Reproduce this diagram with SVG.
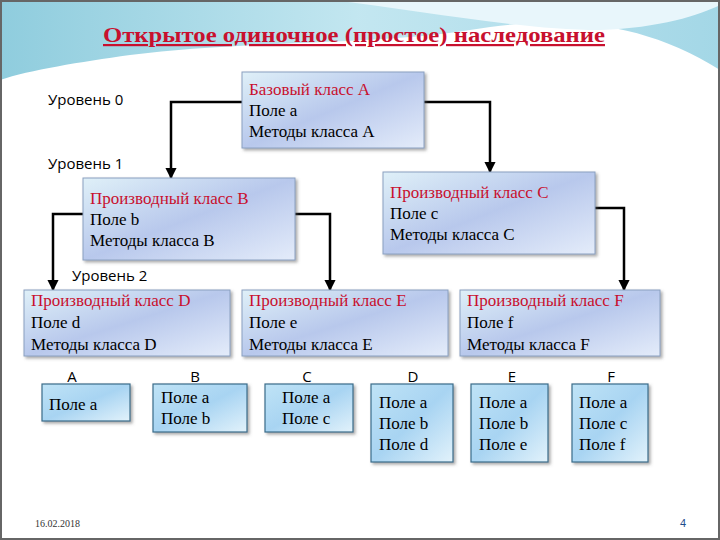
<svg xmlns="http://www.w3.org/2000/svg" width="720" height="540" viewBox="0 0 720 540">
<defs>
<linearGradient id="bg" x1="0" y1="0" x2="1" y2="1"><stop offset="0" stop-color="#dff0f8"/><stop offset="0.5" stop-color="#b8c8ec"/><stop offset="1" stop-color="#e4ecfa"/></linearGradient>
<linearGradient id="sm" x1="0" y1="0" x2="1" y2="1"><stop offset="0" stop-color="#bfe3f6"/><stop offset="0.5" stop-color="#a8d4f2"/><stop offset="1" stop-color="#e2f2fb"/></linearGradient>
<linearGradient id="sky" x1="0" y1="0" x2="1" y2="0"><stop offset="0" stop-color="#5fb7cf"/><stop offset="0.5" stop-color="#a9dcea"/><stop offset="1" stop-color="#7cc6dc"/></linearGradient>
<marker id="ar" viewBox="0 0 10 10" refX="9" refY="5" markerWidth="4.5" markerHeight="4.5" orient="auto"><path d="M0,0L10,5L0,10z" fill="#000"/></marker>
<filter id="sh" x="-10%" y="-10%" width="130%" height="130%"><feDropShadow dx="2" dy="2" stdDeviation="1.5" flood-color="#555" flood-opacity="0.5"/></filter>
</defs>
<style>
.b{fill:url(#bg);stroke:#8aa0c0;stroke-width:1;filter:url(#sh)}
.s{fill:url(#sm);stroke:#3a6d8a;stroke-width:1.2;filter:url(#sh)}
.t{font-family:"Liberation Serif",serif;font-size:17px;fill:#000}
.r{fill:#c8102e}
.l{font-family:"Open Sans","DejaVu Sans",sans-serif;font-size:15px;fill:#000}
.c{stroke:#000;stroke-width:2.5;fill:none;marker-end:url(#ar)}
</style>
<rect width="720" height="540" fill="#fff"/>
<path d="M0,0H720V70C640,20 560,15 470,30C380,45 250,40 130,55C80,62 30,70 0,80Z" fill="url(#sky)" opacity="0.7"/>
<path d="M330,0C420,10 520,30 600,30C660,28 700,15 720,5V0Z" fill="#e8f6fb"/>
<rect x="1" y="1" width="718" height="538" fill="none" stroke="#666" stroke-width="2"/>
<text x="103" y="42" textLength="502" lengthAdjust="spacingAndGlyphs" font-family="Liberation Serif,serif" font-size="22" font-weight="bold" fill="#c8102e" text-decoration="underline">Открытое одиночное (простое) наследование</text>
<text class="l" x="48" y="105">Уровень 0</text>
<text class="l" x="48" y="169">Уровень 1</text>
<text class="l" x="72" y="281">Уровень 2</text>
<g id="connectors">
<path class="c" d="M242,102H171V178"/>
<path class="c" d="M424,102H490V172"/>
<path class="c" d="M83,214H53V290"/>
<path class="c" d="M295,214H330V290"/>
<path class="c" d="M595,208H624V290"/>
</g>
<g id="nA"><rect class="b" x="242" y="72" width="182" height="76"/><text class="t" x="249" y="95"><tspan class="r">Базовый класс A</tspan><tspan x="249" dy="21">Поле a</tspan><tspan x="249" dy="21">Методы  класса A</tspan></text></g>
<g id="nB"><rect class="b" x="83" y="178" width="212" height="82"/><text class="t" x="90" y="204"><tspan class="r">Производный класс B</tspan><tspan x="90" dy="21">Поле b</tspan><tspan x="90" dy="21">Методы класса B</tspan></text></g>
<g id="nC"><rect class="b" x="383" y="172" width="212" height="82"/><text class="t" x="390" y="198"><tspan class="r">Производный класс C</tspan><tspan x="390" dy="21">Поле c</tspan><tspan x="390" dy="21">Методы  класса C</tspan></text></g>
<g id="nD"><rect class="b" x="24" y="290" width="206" height="66"/><text class="t" x="31" y="306"><tspan class="r">Производный класс D</tspan><tspan x="31" dy="22">Поле d</tspan><tspan x="31" dy="22">Методы класса D</tspan></text></g>
<g id="nE"><rect class="b" x="242" y="290" width="206" height="66"/><text class="t" x="249" y="306"><tspan class="r">Производный класс E</tspan><tspan x="249" dy="22">Поле e</tspan><tspan x="249" dy="22">Методы класса E</tspan></text></g>
<g id="nF"><rect class="b" x="460" y="290" width="200" height="66"/><text class="t" x="467" y="306"><tspan class="r">Производный класс F</tspan><tspan x="467" dy="22">Поле f</tspan><tspan x="467" dy="22">Методы класса F</tspan></text></g>
<g id="sA"><text class="l" x="72" y="382" text-anchor="middle">A</text><rect class="s" x="42" y="384" width="88" height="37"/><text class="t" x="49" y="410">Поле a</text></g>
<g id="sB"><text class="l" x="195" y="382" text-anchor="middle">B</text><rect class="s" x="153" y="384" width="94" height="48"/><text class="t" x="161" y="403">Поле a<tspan x="161" dy="21">Поле b</tspan></text></g>
<g id="sC"><text class="l" x="307" y="382" text-anchor="middle">C</text><rect class="s" x="265" y="384" width="88" height="48"/><text class="t" x="282" y="403">Поле a<tspan x="282" dy="21">Поле c</tspan></text></g>
<g id="sD"><text class="l" x="413" y="382" text-anchor="middle">D</text><rect class="s" x="371" y="384" width="82" height="78"/><text class="t" x="379" y="408">Поле a<tspan x="379" dy="21">Поле b</tspan><tspan x="379" dy="21">Поле d</tspan></text></g>
<g id="sE"><text class="l" x="512" y="382" text-anchor="middle">E</text><rect class="s" x="471" y="384" width="77" height="78"/><text class="t" x="479" y="408">Поле a<tspan x="479" dy="21">Поле b</tspan><tspan x="479" dy="21">Поле e</tspan></text></g>
<g id="sF"><text class="l" x="611" y="382" text-anchor="middle">F</text><rect class="s" x="572" y="384" width="76" height="78"/><text class="t" x="579" y="408">Поле a<tspan x="579" dy="21">Поле c</tspan><tspan x="579" dy="21">Поле f</tspan></text></g>
<text x="35" y="527" font-family="Liberation Serif,serif" font-size="10" fill="#333">16.02.2018</text>
<text x="680" y="527" font-family="Liberation Sans,sans-serif" font-size="11" fill="#1f4e8c">4</text>
</svg>
